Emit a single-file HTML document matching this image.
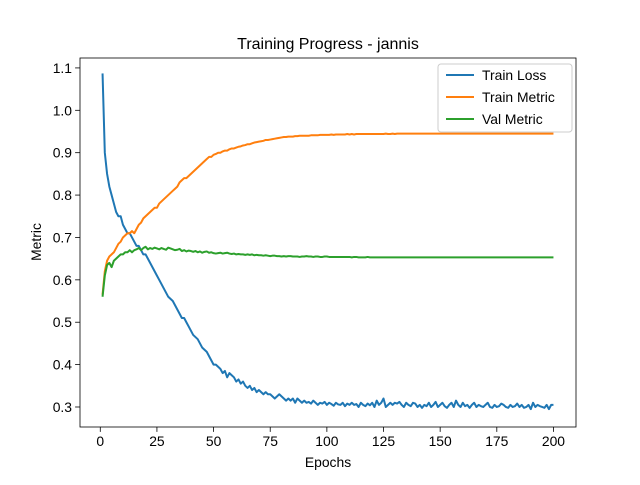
<!DOCTYPE html>
<html><head><meta charset="utf-8"><style>
body{margin:0;background:#fff;}
svg text{font-family:"Liberation Sans","DejaVu Sans",sans-serif;fill:#000;}
</style></head><body>
<svg id="chart" width="640" height="480" viewBox="0 0 640 480">
<rect x="0" y="0" width="640" height="480" fill="#fff"/>
<text x="328" y="49" text-anchor="middle" font-size="16">Training Progress - jannis</text>
<g id="axes"></g>
<g id="series"></g>
<rect x="80" y="58" width="496" height="369" fill="none" stroke="#000" stroke-width="0.8"/>
<text x="328" y="467" text-anchor="middle" font-size="13.9">Epochs</text>
<text x="0" y="0" transform="translate(41,242) rotate(-90)" text-anchor="middle" font-size="13.9">Metric</text>
<g>
<rect x="438" y="64" width="134" height="68" rx="3" fill="#fff" fill-opacity="0.8" stroke="#ccc" stroke-width="1"/>
<g><line x1="446" y1="75" x2="474" y2="75" stroke="#1f77b4" stroke-width="2"/><text x="482" y="80" font-size="13.9">Train Loss</text></g>
<g><line x1="446" y1="97" x2="474" y2="97" stroke="#ff7f0e" stroke-width="2"/><text x="482" y="102" font-size="13.9">Train Metric</text></g>
<g><line x1="446" y1="119" x2="474" y2="119" stroke="#2ca02c" stroke-width="2"/><text x="482" y="124" font-size="13.9">Val Metric</text></g>
</g>
</svg>
<script>
const xTicks=[0,25,50,75,100,125,150,175,200];
const yTicks=[0.3,0.4,0.5,0.6,0.7,0.8,0.9,1.0,1.1];
const yTickLabels=["0.3","0.4","0.5","0.6","0.7","0.8","0.9","1.0","1.1"];
const trainLoss=[1.087,.90,.85,.82,.80,.78,.76,.75,.75,.73,.72,.71,.71,.70,.69,.68,.68,.67,.66,.66,.65,.64,.63,.62,.61,.60,.59,.58,.57,.56,.555,.55,.54,.53,.52,.51,.51,.50,.49,.48,.47,.465,.46,.45,.44,.435,.43,.42,.41,.40,.40,.395,.39,.38,.385,.37,.38,.375,.37,.36,.365,.355,.36,.35,.345,.35,.34,.345,.335,.34,.335,.33,.335,.33,.33,.325,.32,.325,.33,.325,.32,.315,.32,.315,.32,.31,.32,.315,.31,.315,.31,.312,.308,.315,.31,
.305,.31,.308,.312,.305,.31,.307,.303,.31,.306,.305,.31,.302,.308,.305,
.31,.305,.307,.3,.31,.305,.302,.308,.304,.31,.3,.315,.305,.31,.32,
.3,.305,.31,.305,.31,.308,.312,.305,.3,.31,.305,.302,.31,.308,.3,
.305,.298,.305,.302,.31,.3,.305,.312,.3,.305,.31,.302,.298,.305,.31,
.3,.315,.305,.3,.31,.302,.305,.298,.305,.31,.3,.305,.302,.3,.305,
.31,.3,.298,.305,.3,.302,.308,.305,.3,.298,.305,.3,.302,.308,.3,
.305,.298,.3,.305,.295,.31,.3,.305,.302,.3,.298,.305,.295,.305,.305];
const trainMetric=[.565,.62,.645,.655,.66,.665,.675,.685,.69,.70,.705,.71,.71,.715,.71,.72,.73,.735,.745,.75,.755,.76,.765,.77,.77,.78,.785,.79,.795,.80,.805,.81,.815,.82,.83,.835,.84,.84,.845,.85,.855,.86,.865,.87,.875,.88,.885,.89,.89,.895,
.897,.9,.9,.903,.905,.905,.908,.91,.91,.912,.914,.915,.917,.918,.92,.92,.922,.924,.925,.926,.927,.928,.93,.93,.931,.932,.933,.934,.935,.936,.937,.937,.938,.938,.938,.939,.939,.94,.94,.94,.94,.94,.941,.941,.941,.941,.942,.942,.942,.942,
.942,.943,.942,.943,.943,.943,.943,.943,.944,.943,.944,.943,.944,.944,.944,.944,.944,.944,.944,.944,
.944,.944,.944,.944,.944,.945,.944,.944,.945,.944,.945,.945,.945,.945,.945,.945,.945,.945,.945,.945,
.945,.945,.945,.945,.945,.945,.945,.945,.945,.945,.945,.945,.945,.945,.945,.945,.945,.945,.945,.945,
.945,.945,.945,.945,.945,.945,.945,.945,.945,.945,.945,.945,.945,.945,.945,.945,.945,.945,.945,.945,
.945,.945,.945,.945,.945,.945,.945,.945,.945,.945,.945,.945,.945,.945,.945,.945,.945,.945,.945,.945];
const valMetric=[.56,.61,.635,.64,.63,.645,.65,.655,.66,.66,.665,.665,.67,.665,.67,.672,.675,.67,.675,.678,.672,.675,
.673,.676,.674,.672,.675,.673,.671,.676,.674,.672,.67,.671,.673,.668,.67,.667,.669,.668,
.666,.668,.665,.667,.664,.666,.667,.664,.665,.663,.662,.663,.664,.662,.663,.664,.662,.661,.662,.66,
.661,.66,.66,.659,.66,.659,.66,.658,.659,.658,.658,.657,.658,.657,.656,.657,.657,.656,.656,.655,.656,.655,.656,.656,.655,.655,.655,.654,.655,.655,.656,.655,.655,.654,.655,.655,.654,.654,.655,.655,
.654,.654,.654,.654,.654,.654,.654,.654,.654,.654,.653,.654,.654,.653,.653,.653,.653,.654,.653,.653,
.653,.653,.653,.653,.653,.653,.653,.653,.653,.653,.653,.653,.653,.653,.653,.653,.653,.653,.653,.653,
.653,.653,.653,.653,.653,.653,.653,.653,.653,.653,.653,.653,.653,.653,.653,.653,.653,.653,.653,.653,
.653,.653,.653,.653,.653,.653,.653,.653,.653,.653,.653,.653,.653,.653,.653,.653,.653,.653,.653,.653,
.653,.653,.653,.653,.653,.653,.653,.653,.653,.653,.653,.653,.653,.653,.653,.653,.653,.653,.653,.653];

const NS="http://www.w3.org/2000/svg";
const X0=80,X1=576,Y0=58,Y1=427,xmin=-8.95,xmax=209.95,ymin=0.2528,ymax=1.1234;
function sx(v){return X0+(v-xmin)/(xmax-xmin)*(X1-X0);}
function sy(v){return Y1-(v-ymin)/(ymax-ymin)*(Y1-Y0);}
const axes=document.getElementById('axes');
xTicks.forEach(t=>{
  const l=document.createElementNS(NS,'line');
  l.setAttribute('x1',sx(t));l.setAttribute('x2',sx(t));l.setAttribute('y1',Y1);l.setAttribute('y2',Y1+4.9);
  l.setAttribute('stroke','#000');l.setAttribute('stroke-width','0.8');
  
  
  axes.appendChild(l);
  const tx=document.createElementNS(NS,'text');
  tx.setAttribute('x',sx(t));tx.setAttribute('y',Y1+19);tx.setAttribute('text-anchor','middle');tx.setAttribute('font-size','13.9');
  tx.textContent=String(t);
  
  
  axes.appendChild(tx);
});
yTicks.forEach((t,i)=>{
  const l=document.createElementNS(NS,'line');
  l.setAttribute('x1',X0-4.9);l.setAttribute('x2',X0);l.setAttribute('y1',sy(t));l.setAttribute('y2',sy(t));
  l.setAttribute('stroke','#000');l.setAttribute('stroke-width','0.8');
  
  
  axes.appendChild(l);
  const tx=document.createElementNS(NS,'text');
  tx.setAttribute('x',X0-8);tx.setAttribute('y',sy(t)+5);tx.setAttribute('text-anchor','end');tx.setAttribute('font-size','13.9');
  tx.textContent=yTickLabels[i];
  
  
  axes.appendChild(tx);
});
const series=document.getElementById('series');
function draw(arr,color,name){
  const p=document.createElementNS(NS,'polyline');
  p.setAttribute('points',arr.map((v,i)=>sx(i+1).toFixed(2)+','+sy(v).toFixed(2)).join(' '));
  p.setAttribute('fill','none');p.setAttribute('stroke',color);p.setAttribute('stroke-width','2');p.setAttribute('stroke-linejoin','round');
  
  
  series.appendChild(p);
}
draw(trainLoss,'#1f77b4','train-loss-line');
draw(trainMetric,'#ff7f0e','train-metric-line');
draw(valMetric,'#2ca02c','val-metric-line');
</script>
</body></html>
